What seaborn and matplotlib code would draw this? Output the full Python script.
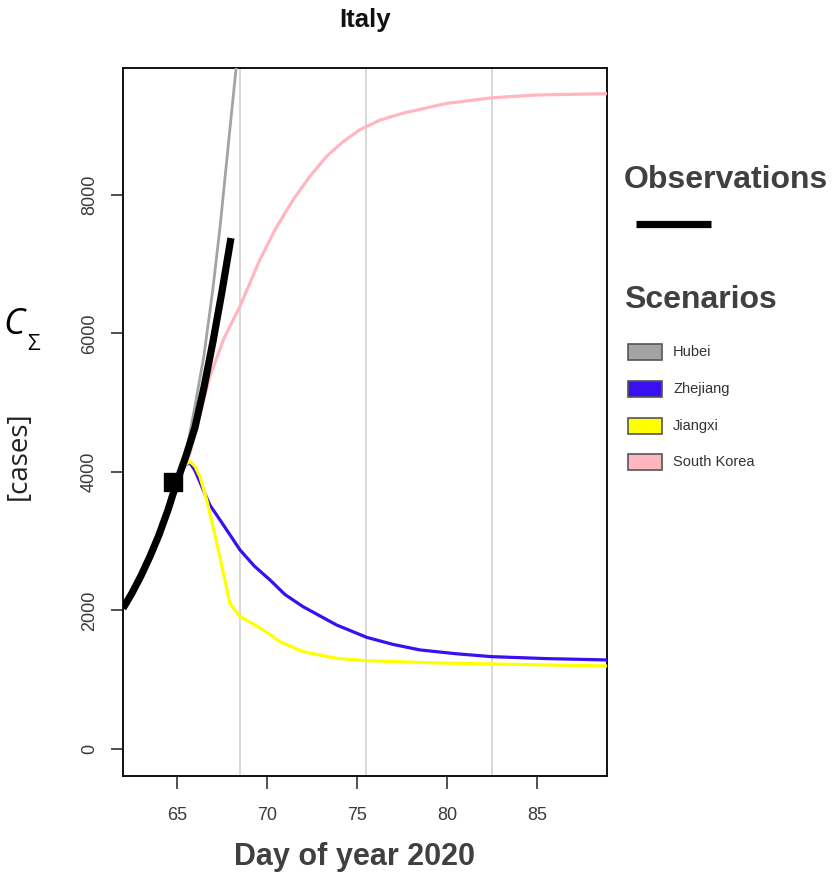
import numpy as np
import pandas as pd
import seaborn as sns
import matplotlib
matplotlib.use("Agg")
import matplotlib.pyplot as plt
from matplotlib.patches import Rectangle
from matplotlib.lines import Line2D

# ---------------- data ----------------
obs_day = [62, 62.5, 63, 63.5, 64, 64.5, 65, 65.5, 66, 66.5, 67, 67.5, 68]
obs_cases = [2030, 2250, 2500, 2780, 3090, 3450, 3860, 4230, 4640, 5220, 5880, 6600, 7375]

marker_day = [64.8]
marker_cases = [3850]

hubei_day = [65.25, 65.6, 66.0, 66.5, 67.0, 67.4, 68.0, 68.3, 68.8]
hubei_cases = [4000, 4400, 4950, 5680, 6650, 7550, 9100, 9860, 11500]

zhejiang_day = [65.25, 65.45, 65.72, 66.0, 66.46, 66.83, 67.39, 68.0, 68.5, 69.3,
                70.17, 71.0, 72.0, 73.87, 75.54, 77.0, 78.5, 80.5, 82.48, 85.5, 88.9]
zhejiang_cases = [4000, 4100, 4130, 4020, 3740, 3520, 3307, 3070, 2874, 2640,
                  2440, 2230, 2055, 1790, 1612, 1510, 1430, 1375, 1333, 1305, 1285]

jiangxi_day = [65.25, 65.45, 65.72, 66.0, 66.28, 66.65, 66.83, 67.3, 67.94, 68.5,
               69.0, 69.8, 70.72, 72.0, 73.87, 75.54, 79.0, 82.48, 88.9]
jiangxi_cases = [4000, 4100, 4150, 4080, 3930, 3600, 3400, 2870, 2104, 1911,
                 1840, 1718, 1550, 1405, 1309, 1275, 1245, 1227, 1199]

korea_day = [65.25, 65.72, 66.3, 66.83, 67.6, 68.5, 69.6, 70.5, 71.46, 72.4, 73.3,
             74.2, 75.17, 76.3, 77.6, 80.0, 82.5, 85.0, 88.9]
korea_cases = [4000, 4270, 4850, 5380, 5920, 6390, 7060, 7520, 7930, 8270, 8550,
               8760, 8940, 9080, 9180, 9320, 9400, 9440, 9460]

scenario_names = ["Hubei", "Zhejiang", "Jiangxi", "South Korea"]
scenario_colors = ["#a3a3a3", "#3a0ff0", "#ffff00", "#ffb6c1"]

week_lines = [68.5, 75.5, 82.5]
x_ticks = [65, 70, 75, 80, 85]
y_ticks = [0, 2000, 4000, 6000, 8000]

# ---------------- figure ----------------
sns.set_theme(style="ticks")
plt.rcParams["font.family"] = ["Liberation Sans", "DejaVu Sans"]

W, H = 832, 874
fig = plt.figure(figsize=(W / 100, H / 100), dpi=100)
ax = fig.add_axes([123 / W, 1 - 776 / H, (607 - 123) / W, (776 - 68) / H])

for d in week_lines:
    ax.axvline(d, color="#d6d6d6", lw=1.3, zorder=1)

series = [
    (hubei_day, hubei_cases),
    (zhejiang_day, zhejiang_cases),
    (jiangxi_day, jiangxi_cases),
    (korea_day, korea_cases),
]
widths = [2.0, 2.3, 2.3, 2.3]
for (d, c), name, col, lw in zip(series, scenario_names, scenario_colors, widths):
    df = pd.DataFrame({"day": d, "cases": c})
    sns.lineplot(data=df, x="day", y="cases", ax=ax, color=col, lw=lw,
                 sort=False, estimator=None, zorder=3, solid_joinstyle="round")

obs_df = pd.DataFrame({"day": obs_day, "cases": obs_cases})
sns.lineplot(data=obs_df, x="day", y="cases", ax=ax, color="black", lw=5.2,
             sort=False, estimator=None, zorder=4, solid_capstyle="butt",
             solid_joinstyle="round")
mk_df = pd.DataFrame({"day": marker_day, "cases": marker_cases})
sns.scatterplot(data=mk_df, x="day", y="cases", ax=ax, marker="s", s=150,
                color="black", edgecolor="black", zorder=5)

ax.set_xlim(62.0, 88.9)
ax.set_ylim(-390, 9830)
ax.set_xticks(x_ticks)
ax.set_yticks(y_ticks)
ax.set_xticklabels([str(t) for t in x_ticks])
ax.set_yticklabels([str(t) for t in y_ticks], rotation=90, va="center")
ax.tick_params(axis="both", length=9, width=1.1, color="#222222",
               labelsize=13, labelcolor="#3a3a3a", direction="out")
ax.tick_params(axis="x", pad=13)
ax.tick_params(axis="y", pad=9)
for s in ax.spines.values():
    s.set_visible(True)
    s.set_color("#111111")
    s.set_linewidth(1.4)
ax.set_xlabel("")
ax.set_ylabel("")
ax.grid(False)

# ---------------- texts ----------------
def fx(x):
    return x / W

def fy(y):
    return 1 - y / H

fig.text(fx(365), fy(20), "Italy", ha="center", va="center", fontsize=18.5,
         fontweight="bold", color="#111111")
fig.text(fx(354), fy(857), "Day of year 2020", ha="center", va="center",
         fontsize=22, fontweight="bold", color="#404040")

fig.text(fx(3), fy(325), "C", ha="left", va="center", fontsize=26,
         style="italic", family=["Open Sans", "DejaVu Sans"], color="black")
fig.text(fx(27), fy(344), "Σ", ha="left", va="center", fontsize=16,
         family=["Open Sans", "DejaVu Sans"], color="black")
fig.text(fx(19), fy(456), "[cases]", ha="center", va="center", fontsize=20,
         rotation=90, family=["Open Sans", "DejaVu Sans"], color="#222222")

# legend: observations
fig.text(fx(624), fy(180), "Observations", ha="left", va="center", fontsize=23,
         fontweight="bold", color="#404040")
fig.add_artist(Line2D([fx(636), fx(711)], [fy(224), fy(224)], color="black",
                      lw=5.2, solid_capstyle="butt"))

# legend: scenarios
fig.text(fx(624), fy(300), "Scenarios", ha="left", va="center", fontsize=23,
         fontweight="bold", color="#404040")
rows_y = [352, 389, 426, 462]
for ry, name, col in zip(rows_y, scenario_names, scenario_colors):
    fig.add_artist(Rectangle((fx(628), fy(ry + 8)), (662 - 628) / W, 16 / H,
                             facecolor=col, edgecolor="#555555", lw=1.2))
    fig.text(fx(673), fy(ry), name, ha="left", va="center", fontsize=10.5,
             color="#333333")

fig.savefig("out.png", dpi=100)
